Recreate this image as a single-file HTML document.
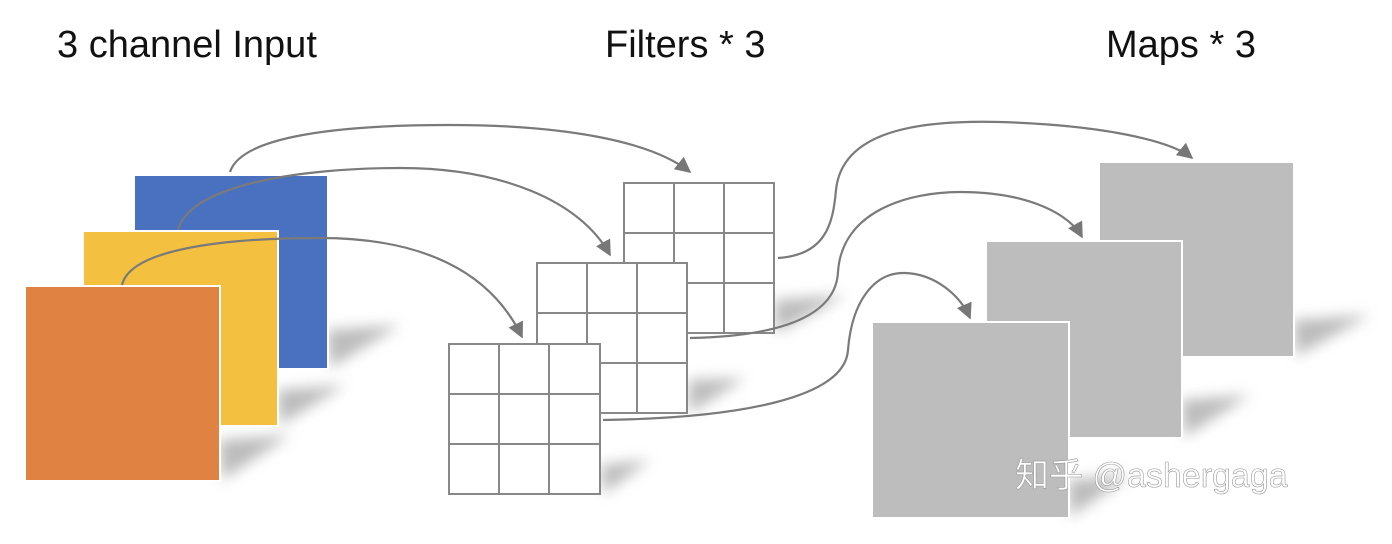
<!DOCTYPE html>
<html><head><meta charset="utf-8"><style>
body{margin:0;background:#fff;}
svg{display:block;}
</style></head><body>
<svg width="1392" height="544" viewBox="0 0 1392 544" xmlns="http://www.w3.org/2000/svg">
<defs>
<filter id="bl" x="-50%" y="-50%" width="200%" height="200%"><feGaussianBlur stdDeviation="7"/></filter>
<marker id="ar" markerWidth="10" markerHeight="10" refX="8" refY="5" orient="auto" markerUnits="userSpaceOnUse"><path d="M0,0 L10,5 L0,10 Z" fill="#777"/></marker>
<marker id="ar2" viewBox="0 0 10 10" markerWidth="16" markerHeight="16" refX="9" refY="5" orient="auto" markerUnits="userSpaceOnUse"><path d="M0,0 L10,5 L0,10 Z" fill="#777"/></marker>
</defs>
<g font-family="Liberation Sans, sans-serif" font-size="38" fill="#111">
<text x="57" y="57">3 channel Input</text>
<text x="605" y="57">Filters * 3</text>
<text x="1106" y="57">Maps * 3</text>
</g>
<!-- shadows -->
<g fill="#aaa" filter="url(#bl)" opacity="0.8">
<polygon points="327,330 400,325 330,368"/>
<polygon points="277,390 345,385 280,425"/>
<polygon points="219,440 290,435 222,480"/>
<polygon points="774,300 845,295 776,333"/>
<polygon points="688,380 745,378 690,413"/>
<polygon points="601,465 650,460 603,494"/>
<polygon points="1293,320 1370,315 1296,356"/>
<polygon points="1181,400 1250,395 1184,437"/>
<polygon points="1068,480 1130,475 1070,517"/>
</g>
<!-- input squares -->
<rect x="134" y="175" width="194" height="194" fill="#4a71bf" stroke="#fff" stroke-width="2"/>
<rect x="83" y="231" width="195" height="195" fill="#f3c13f" stroke="#fff" stroke-width="2"/>
<rect x="25" y="286" width="195" height="195" fill="#df8242" stroke="#fff" stroke-width="2"/>
<!-- grids -->
<g fill="#fff" stroke="#888" stroke-width="2">
<g transform="translate(624,183)"><rect width="150" height="150"/><path d="M50,0V150M100,0V150M0,50H150M0,100H150"/></g>
<g transform="translate(537,263)"><rect width="150" height="150"/><path d="M50,0V150M100,0V150M0,50H150M0,100H150"/></g>
<g transform="translate(449,344)"><rect width="151" height="150"/><path d="M50,0V150M100,0V150M0,50H151M0,100H151"/></g>
</g>
<!-- maps -->
<rect x="1099" y="162" width="195" height="195" fill="#bdbdbd" stroke="#fff" stroke-width="2"/>
<rect x="986" y="241" width="196" height="197" fill="#bdbdbd" stroke="#fff" stroke-width="2"/>
<rect x="872" y="322" width="197" height="196" fill="#bdbdbd" stroke="#fff" stroke-width="2"/>
<!-- connectors -->
<g fill="none" stroke="#7a7a7a" stroke-width="2.2">
<path d="M230,172 C240,140 320,125 450,125 C560,125 650,140 690,172" marker-end="url(#ar2)"/>
<path d="M178,230 C190,185 300,168 400,168 C500,168 580,200 610,255" marker-end="url(#ar2)"/>
<path d="M122,285 C130,250 220,238 320,238 C420,238 490,270 522,337" marker-end="url(#ar2)"/>
<path d="M778,258 C825,255 833,225 836,190 C842,130 920,120 1000,122 C1100,125 1170,140 1192,158" marker-end="url(#ar2)"/>
<path d="M690,338 C790,336 836,312 838,272 C842,210 910,192 960,192 C1030,192 1070,215 1082,237" marker-end="url(#ar2)"/>
<path d="M603,420 C740,418 845,398 848,350 C852,300 875,272 905,273 C935,274 960,295 970,318" marker-end="url(#ar2)"/>
</g>
<text x="1015" y="487" font-family="Liberation Sans, Noto Sans CJK SC, sans-serif" font-size="34" fill="#fff" stroke="#999" stroke-width="0.6">知乎 @ashergaga</text>
</svg>
</body></html>
